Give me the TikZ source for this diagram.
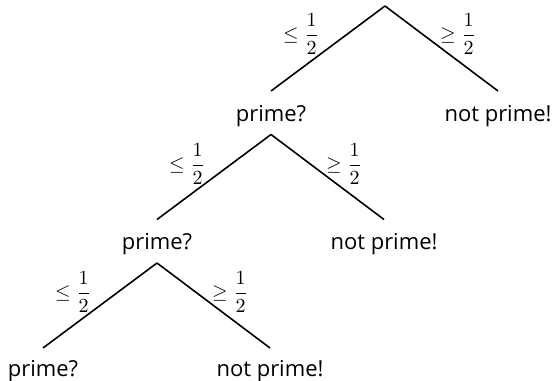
\documentclass[tikz,border=0pt]{standalone}
\usepackage{fontspec}
\newfontfamily\labelfont{Open Sans}
\begin{document}
\begin{tikzpicture}[x=0.5pt,y=-0.5pt,
  edge/.style={line width=0.8pt},
  answer/.style={font=\labelfont\fontsize{11}{13}\selectfont, anchor=base, inner sep=0pt},
  cond/.style={font=\fontsize{10}{12}\selectfont, inner sep=0pt}]
\useasboundingbox (0,0) rectangle (556,380);
% branch points
\coordinate (p1) at (385,6);
\coordinate (p2) at (271,134.5);
\coordinate (p3) at (157,263);
% edge ends
\coordinate (l1) at (271,91);
\coordinate (r1) at (498,91);
\coordinate (l2) at (157,219.5);
\coordinate (r2) at (384,219.5);
\coordinate (l3) at (43,348);
\coordinate (r3) at (270,348);
% answers
\node[answer] (a1) at (271,121.5) {prime?};
\node[answer] (b1) at (498,121.5) {not prime!};
\node[answer] (a2) at (157,249.5) {prime?};
\node[answer] (b2) at (384,249.5) {not prime!};
\node[answer] (a3) at (43,376) {prime?};
\node[answer] (b3) at (270,376) {not prime!};
% edges
\draw[edge] (p1) -- (l1);
\draw[edge] (p1) -- (r1);
\draw[edge] (p2) -- (l2);
\draw[edge] (p2) -- (r2);
\draw[edge] (p3) -- (l3);
\draw[edge] (p3) -- (r3);
% conditions
\node[cond] (c1l) at (301,34) {$\displaystyle\le\frac{1}{2}$};
\node[cond] (c1r) at (458,34) {$\displaystyle\ge\frac{1}{2}$};
\node[cond] (c2l) at (187,164) {$\displaystyle\le\frac{1}{2}$};
\node[cond] (c2r) at (344,164) {$\displaystyle\ge\frac{1}{2}$};
\node[cond] (c3l) at (73,292) {$\displaystyle\le\frac{1}{2}$};
\node[cond] (c3r) at (230,292) {$\displaystyle\ge\frac{1}{2}$};
\end{tikzpicture}
\end{document}
